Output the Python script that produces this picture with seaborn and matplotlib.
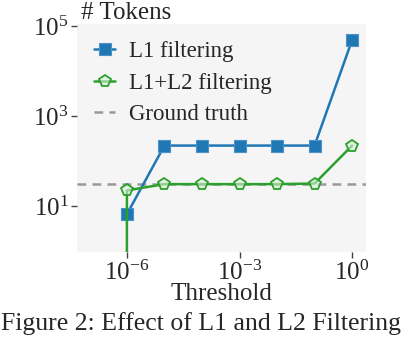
import matplotlib
matplotlib.use("Agg")
import matplotlib.pyplot as plt
import seaborn as sns
import numpy as np
import pandas as pd

# ---- data ----
thresholds_l1 = [1e-6, 1e-5, 1e-4, 1e-3, 1e-2, 1e-1, 1e0]
tokens_l1 = [6.7, 222, 222, 222, 222, 222, 48600]
thresholds_l12 = [1e-6, 1e-6, 1e-5, 1e-4, 1e-3, 1e-2, 1e-1, 1e0]
tokens_l12 = [0.0, 22.5, 31, 31, 31, 31, 32, 222]
ground_truth = 31.4
series_names = ["L1 filtering", "L1+L2 filtering", "Ground truth"]
x_ticks = [1e-6, 1e-3, 1e0]
y_ticks = [1e1, 1e3, 1e5]

sns.set_theme(style="white")
plt.rcParams["font.family"] = ["Liberation Serif", "DejaVu Serif"]
plt.rcParams["mathtext.fontset"] = "stix"

df1 = pd.DataFrame({"Threshold": thresholds_l1, "Tokens": tokens_l1})
df2 = pd.DataFrame({"Threshold": thresholds_l12, "Tokens": tokens_l12})

fig = plt.figure(figsize=(4.04, 3.40), dpi=100)
ax = fig.add_axes([77/404, 1-252/340, (366-77)/404, (252-24)/340])
ax.set_facecolor("#f5f5f5")
for s in ax.spines.values():
    s.set_visible(False)

blue = "#1f77b4"
green = "#2ca02c"
ax.set_xscale("log")
ax.set_yscale("log")
sns.lineplot(data=df1, x="Threshold", y="Tokens", ax=ax, color=blue, lw=1.8,
             marker="s", markersize=8, markeredgecolor="#4a92c8", markeredgewidth=0.8,
             label=series_names[0], sort=False, estimator=None)
sns.lineplot(data=df2, x="Threshold", y="Tokens", ax=ax, color=green, lw=1.8,
             marker="p", markersize=8.5, markerfacecolor=(0.85, 0.93, 0.85, 0.6),
             markeredgecolor=green, markeredgewidth=1.3,
             label=series_names[1], sort=False, estimator=None)
ax.axhline(ground_truth, color="#999999", lw=1.8, ls=(0, (3.5, 2.5)), label=series_names[2], zorder=1)

ax.set_xlim(10**-7.33, 10**0.37)
ax.set_ylim(0.97, 1.1e5)
ax.set_xticks(x_ticks)
ax.set_yticks(y_ticks)
ax.minorticks_off()
ax.tick_params(axis="both", which="major", length=4, width=1, color="#444444",
               labelsize=18, bottom=True, left=True, pad=2)
ax.set_xlabel("Threshold", fontsize=18, labelpad=-1)
ax.set_ylabel("")
ax.text(0.015, 1.0, "# Tokens", transform=ax.transAxes, fontsize=18,
        ha="left", va="bottom")

leg = ax.legend(loc="upper left", fontsize=16.5, frameon=False, handlelength=0.9,
                borderaxespad=0.3, labelspacing=0.45, handletextpad=0.6,
                borderpad=0.45)

fig.text(0.002, 0.014, "Figure 2: Effect of L1 and L2 Filtering", fontsize=18.5,
         ha="left", va="bottom")

fig.savefig("out.png", dpi=100)
